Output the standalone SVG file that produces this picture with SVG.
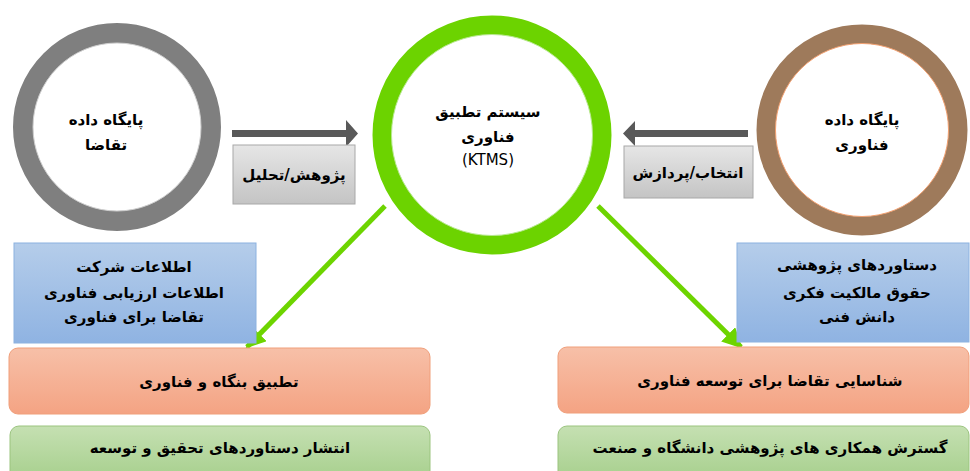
<svg xmlns="http://www.w3.org/2000/svg" width="970" height="471" viewBox="0 0 970 471">
<defs>
<style>
.t{font-family:"DejaVu Sans","Noto Sans",sans-serif;font-weight:bold;font-size:15px;fill:#000;text-anchor:middle}
.n{font-family:"DejaVu Sans","Noto Sans",sans-serif;font-size:15px;fill:#000;text-anchor:middle}
.gl{stroke:#6dd400;stroke-width:5;fill:none}
</style>
<linearGradient id="gGray" x1="0" y1="0" x2="0" y2="1"><stop offset="0" stop-color="#e6e6e6"/><stop offset="1" stop-color="#c4c4c4"/></linearGradient>
<linearGradient id="gBlue" x1="0" y1="0" x2="0" y2="1"><stop offset="0" stop-color="#b5cdea"/><stop offset="1" stop-color="#8fb3e2"/></linearGradient>
<linearGradient id="gOr" x1="0" y1="0" x2="0" y2="1"><stop offset="0" stop-color="#f7c0a8"/><stop offset="1" stop-color="#f4a383"/></linearGradient>
<linearGradient id="gGr" x1="0" y1="0" x2="0" y2="1"><stop offset="0" stop-color="#c5e0b2"/><stop offset="1" stop-color="#a6cf8c"/></linearGradient>
<marker id="ga" viewBox="0 0 10 10" refX="9" refY="5" markerWidth="4" markerHeight="4" orient="auto" markerUnits="strokeWidth"><path d="M0,0 L10,5 L0,10 z" fill="#6dd400"/></marker>
</defs>
<rect width="970" height="471" fill="#fff"/>

<g id="connectors">
<line class="gl" x1="385" y1="206" x2="247" y2="347" marker-end="url(#ga)"/>
<line class="gl" x1="598" y1="206" x2="741" y2="347" marker-end="url(#ga)"/>
<path d="M232,130 H346 V120 L358,133.5 L346,147 V137 H232 z" fill="#595959"/>
<path d="M748,130 H635 V121 L623,133.5 L635,146 V137 H748 z" fill="#595959"/>
</g>

<g id="label-left">
<rect x="233" y="145" width="122" height="59" fill="url(#gGray)" stroke="#a8a8a8" stroke-width="1"/>
<text class="t" x="294" y="180">پژوهش/تحلیل</text>
</g>
<g id="label-right">
<rect x="624" y="146" width="129" height="52" fill="url(#gGray)" stroke="#a8a8a8" stroke-width="1"/>
<text class="t" x="688" y="178">انتخاب/پردازش</text>
</g>

<g id="node-demand-db">
<circle cx="117" cy="127" r="94" fill="#fff" stroke="#7f7f7f" stroke-width="20"/>
<circle cx="117" cy="127" r="84" fill="none" stroke="#cfcfcf" stroke-width="1"/>
<text class="t" x="106" y="125">پایگاه داده</text>
<text class="t" x="106" y="150">تقاضا</text>
</g>

<g id="node-ktms">
<circle cx="492" cy="135" r="110" fill="#fff" stroke="#6cd300" stroke-width="19"/>
<circle cx="492" cy="135" r="100.5" fill="none" stroke="#b8e890" stroke-width="1"/>
<text class="t" x="488" y="117">سیستم تطبیق</text>
<text class="t" x="488" y="142">فناوری</text>
<text class="n" x="488" y="165">(KTMS)</text>
</g>

<g id="node-tech-db">
<circle cx="862" cy="130" r="96" fill="#fff" stroke="#9e7a5b" stroke-width="19"/>
<circle cx="862" cy="130" r="86.5" fill="none" stroke="#f2a070" stroke-width="1"/>
<text class="t" x="862" y="125">پایگاه داده</text>
<text class="t" x="862" y="150">فناوری</text>
</g>

<g id="box-left-info">
<rect x="14" y="243" width="242" height="100" fill="url(#gBlue)" stroke="#8cb2e0" stroke-width="1"/>
<text class="t" x="134" y="272">اطلاعات شرکت</text>
<text class="t" x="134" y="298">اطلاعات ارزیابی فناوری</text>
<text class="t" x="134" y="322">تقاضا برای فناوری</text>
</g>

<g id="box-right-info">
<rect x="737" y="243" width="232" height="99" fill="url(#gBlue)" stroke="#8cb2e0" stroke-width="1"/>
<text class="t" x="857" y="270">دستاوردهای پژوهشی</text>
<text class="t" x="857" y="298">حقوق مالکیت فکری</text>
<text class="t" x="857" y="322">دانش فنی</text>
</g>

<g id="box-left-match">
<rect x="9" y="348" width="421" height="66" rx="9" fill="url(#gOr)" stroke="#f09f7b" stroke-width="1"/>
<text class="t" x="219" y="387">تطبیق بنگاه و فناوری</text>
</g>
<g id="box-right-demand">
<rect x="558" y="347" width="411" height="66" rx="9" fill="url(#gOr)" stroke="#f09f7b" stroke-width="1"/>
<text class="t" x="770" y="386">شناسایی تقاضا برای توسعه فناوری</text>
</g>
<g id="box-left-publish">
<rect x="10" y="426" width="420" height="55" rx="9" fill="url(#gGr)" stroke="#9bc47f" stroke-width="1"/>
<text class="t" x="220" y="453">انتشار دستاوردهای تحقیق و توسعه</text>
</g>
<g id="box-right-coop">
<rect x="558" y="426" width="411" height="55" rx="9" fill="url(#gGr)" stroke="#9bc47f" stroke-width="1"/>
<text class="t" x="770" y="453">گسترش همکاری های پژوهشی دانشگاه و صنعت</text>
</g>
</svg>
